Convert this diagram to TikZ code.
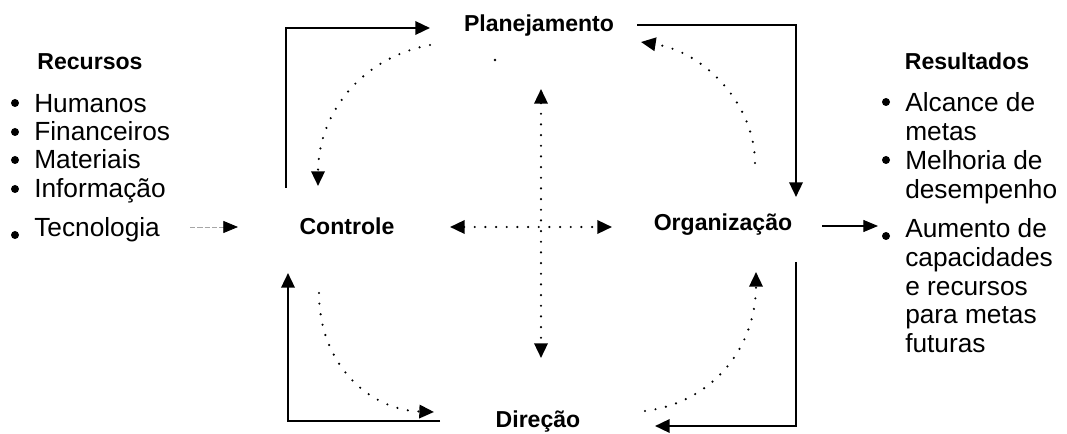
\documentclass[tikz,border=0pt]{standalone}
\usepackage{fontspec}
\setmainfont{Liberation Sans}
\usetikzlibrary{arrows.meta}
\begin{document}
\begin{tikzpicture}[x=0.75pt,y=-0.75pt,
  lbl/.style={inner sep=0pt, anchor=base, font=\bfseries\fontsize{17.3pt}{20pt}\selectfont},
  item/.style={inner sep=0pt, anchor=base west, font=\fontsize{19.7pt}{22pt}\selectfont},
  frame/.style={line width=1.8pt, -{Triangle[length=11pt,width=10pt]}},
  dotarrow/.style={line width=1.8pt, dash pattern=on 0pt off 8pt, line cap=round, -{Triangle[length=11pt,width=10pt]}},
  dotboth/.style={line width=1.8pt, dash pattern=on 0pt off 8pt, line cap=round, {Triangle[length=11pt,width=10pt]}-{Triangle[length=11pt,width=10pt]}},
  bul/.style={fill=black}
]
\useasboundingbox (0,0) rectangle (1067,434);

% main labels
\node[lbl] (plan) at (539,32) {Planejamento};
\node[lbl] (dir) at (538,427) {Direção};
\node[lbl] (ctrl) at (347,235) {Controle};
\node[lbl] (org) at (723,231) {Organização};
\node[lbl] (rec) at (90,70) {Recursos};
\node[lbl] (res) at (967,70) {Resultados};

% left list
\node[item] (h) at (34,113) {Humanos};
\node[item] (f) at (34,141) {Financeiros};
\node[item] (m) at (34,169) {Materiais};
\node[item] (i) at (34,198) {Informação};
\node[item] (t) at (34,237) {Tecnologia};
\foreach \yy in {103,132,160,189,235} \fill[bul] (15,\yy) circle (3pt);

% right list
\node[item] (r1) at (905,112) {Alcance de};
\node[item] (r2) at (905,141) {metas};
\node[item] (r3) at (905,170) {Melhoria de};
\node[item] (r4) at (905,199) {desempenho};
\node[item] (r5) at (905,238) {Aumento de};
\node[item] (r6) at (905,267) {capacidades};
\node[item] (r7) at (905,296) {e recursos};
\node[item] (r8) at (905,324) {para metas};
\node[item] (r9) at (905,353) {futuras};
\foreach \yy in {102,160,236} \fill[bul] (886,\yy) circle (3pt);

% coordinates for frame arrows
\coordinate (tl0) at (286,188); \coordinate (tl1) at (286,28); \coordinate (tl2) at (430,28);
\coordinate (tr0) at (637,25); \coordinate (tr1) at (796,25); \coordinate (tr2) at (796,197);
\coordinate (br0) at (796,262); \coordinate (br1) at (796,426); \coordinate (br2) at (655,426);
\coordinate (bl0) at (440,421); \coordinate (bl1) at (288,421); \coordinate (bl2) at (288,273);

\draw[frame] (tl0) -- (tl1) -- (tl2);
\draw[frame] (tr0) -- (tr1) -- (tr2);
\draw[frame] (br0) -- (br1) -- (br2);
\draw[frame] (bl0) -- (bl1) -- (bl2);

% dotted arcs
\coordinate (a1s) at (430,45); \coordinate (a1e) at (318,186);
\draw[dotarrow] (a1s) .. controls (360,58) and (318,115) .. (a1e);
\coordinate (a2s) at (755,163); \coordinate (a2e) at (641,42);
\draw[dotarrow] (a2s) .. controls (755,105) and (705,52) .. (a2e);
\coordinate (a3s) at (319,293); \coordinate (a3e) at (434,412);
\draw[dotarrow] (a3s) .. controls (319,365) and (370,410) .. (a3e);
\coordinate (a4s) at (645,411); \coordinate (a4e) at (756,272);
\draw[dotarrow] (a4s) .. controls (715,402) and (756,345) .. (a4e);

% central cross
\coordinate (vt) at (541,89); \coordinate (vb) at (541,358);
\draw[dotboth] (vt) -- (vb);
\coordinate (hl) at (450,227); \coordinate (hr) at (612,227);
\draw[dotboth] (hl) -- (hr);
\fill (495,60) circle (1pt);

% input / output arrows
\coordinate (in0) at (190,227); \coordinate (in1) at (238,227);
\draw[gray!70, line width=0.6pt, dash pattern=on 4pt off 1.5pt, -{Triangle[length=11pt,width=9pt,color=black]}] (in0) -- (in1);
\coordinate (out0) at (822,226); \coordinate (out1) at (878,226);
\draw[line width=0.8pt, -{Triangle[length=11pt,width=9pt]}] (out0) -- (out1);
\end{tikzpicture}
\end{document}
